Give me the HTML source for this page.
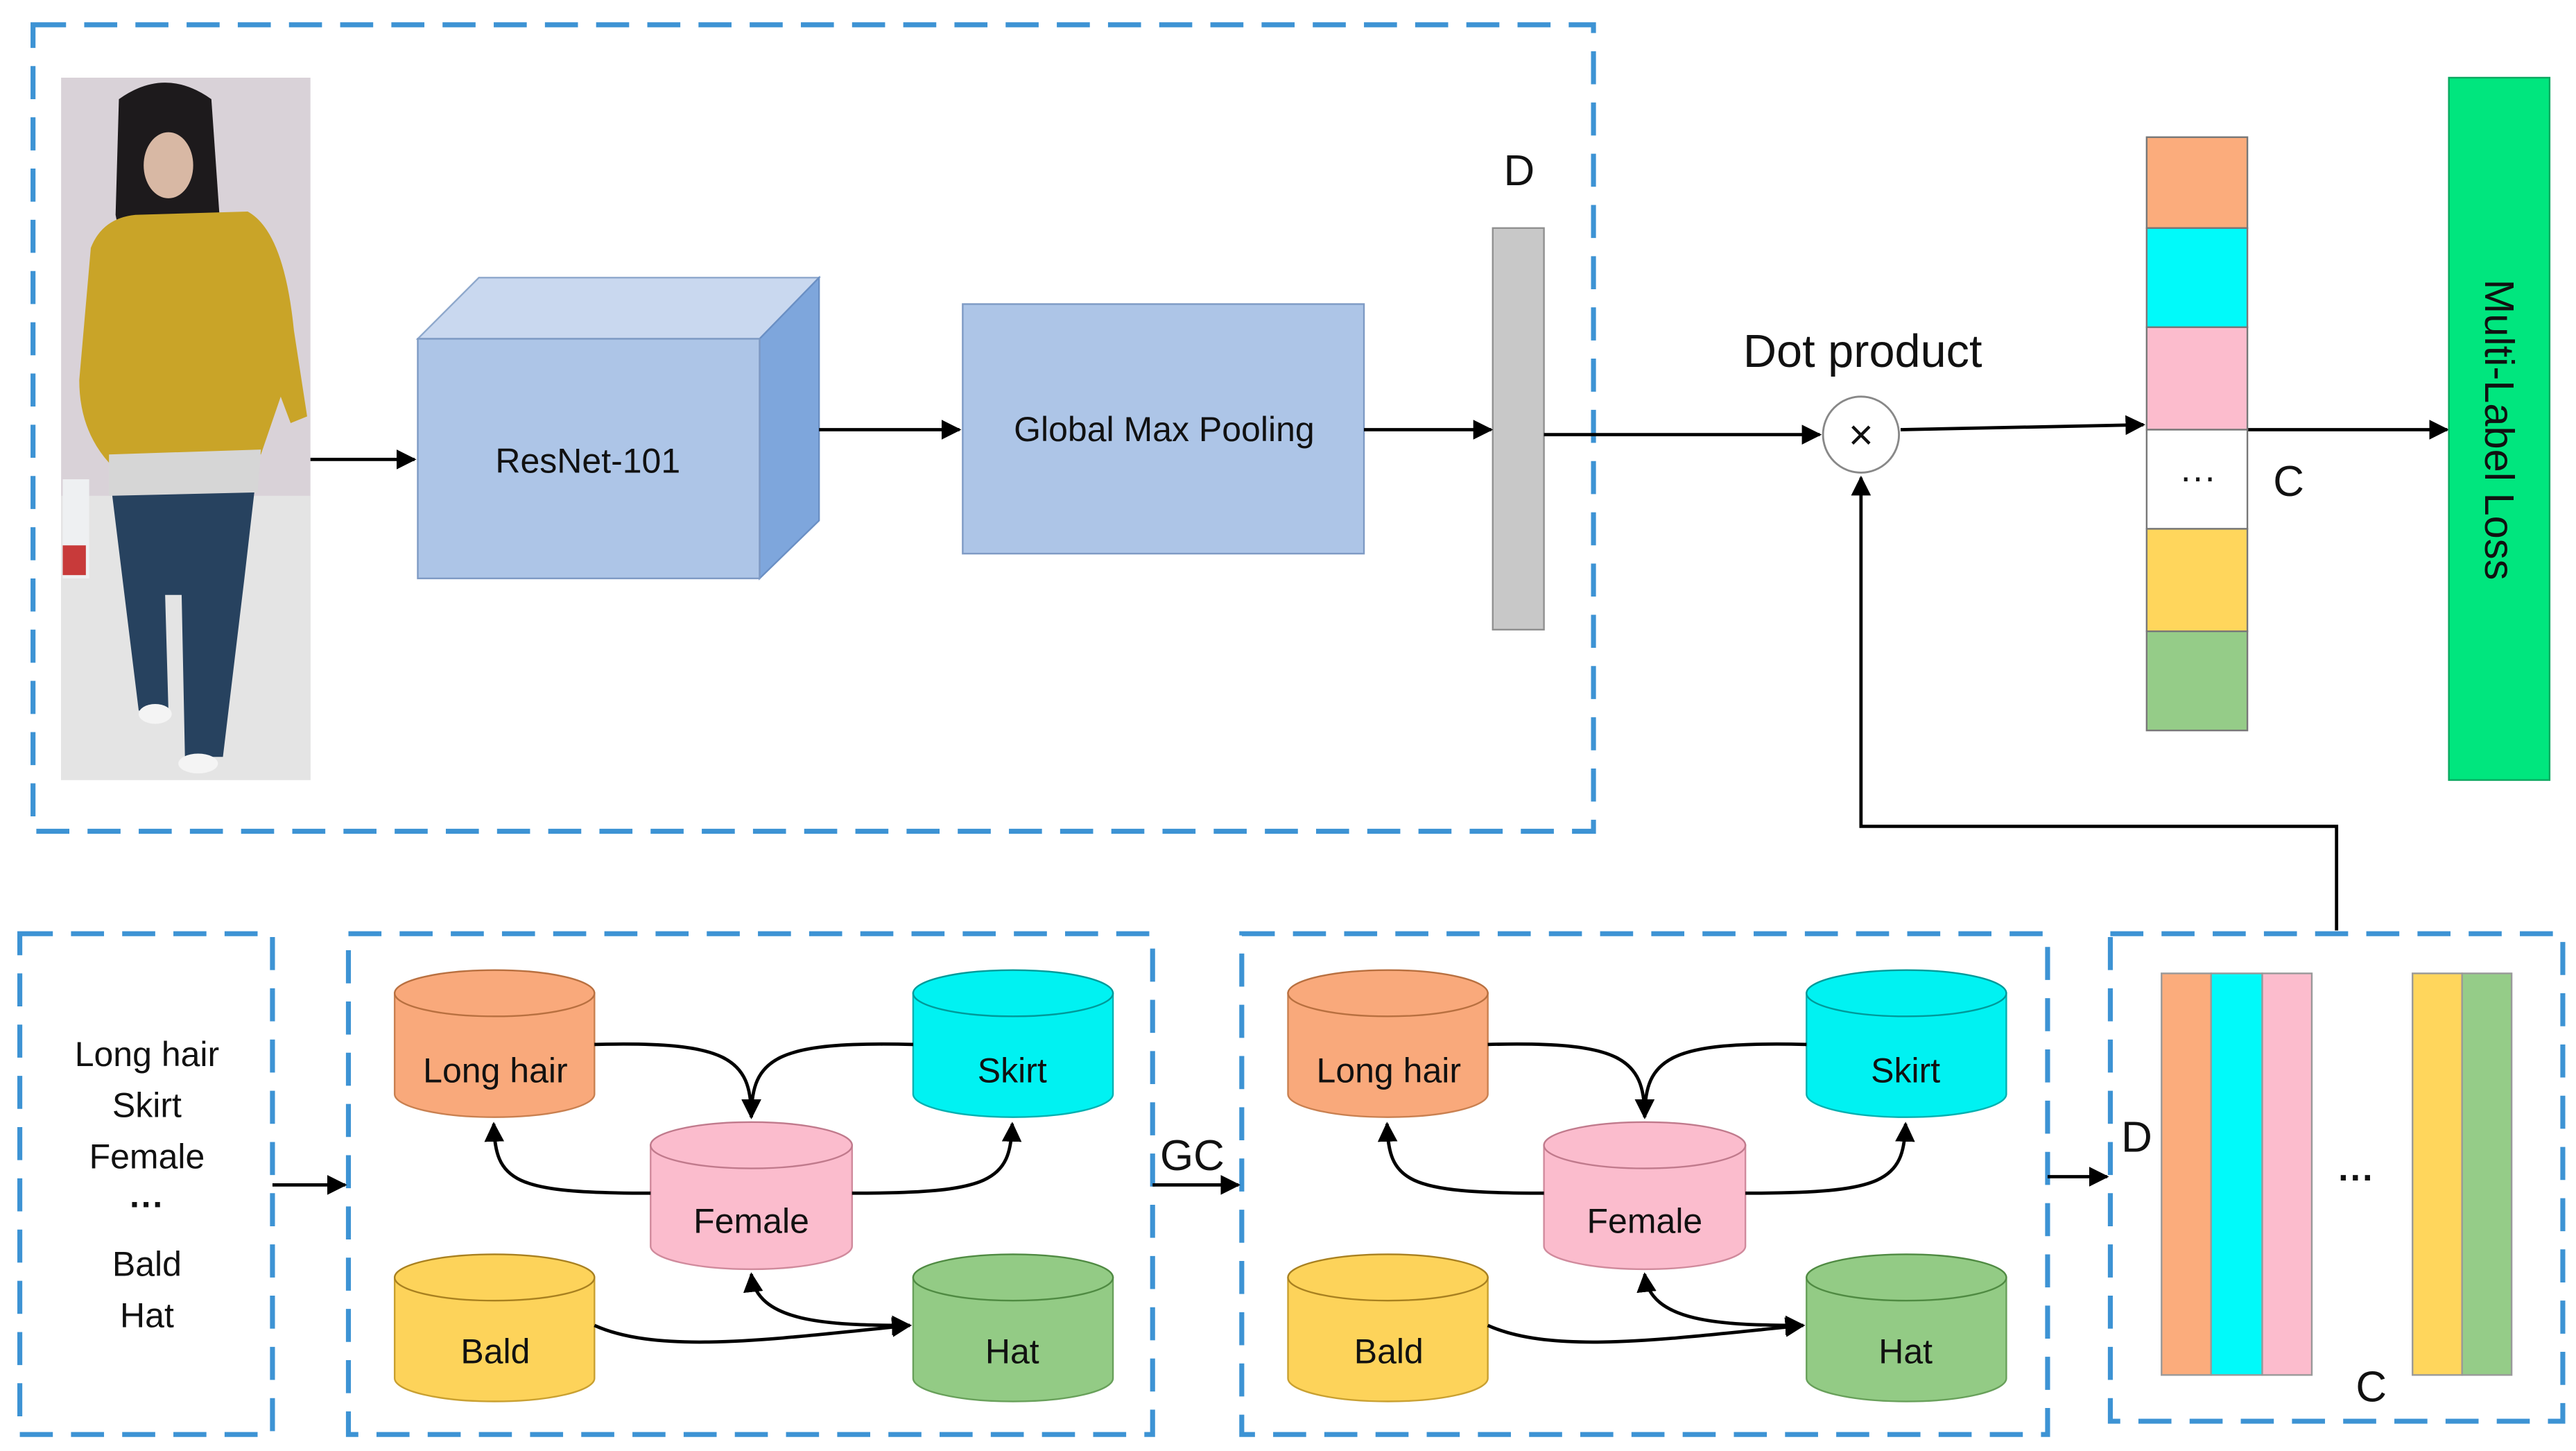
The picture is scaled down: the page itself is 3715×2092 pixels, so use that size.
<!DOCTYPE html>
<html><head><meta charset="utf-8"><style>
html,body{margin:0;padding:0;background:#fff;}
svg{display:block;}
text{font-family:"Liberation Sans",sans-serif;fill:#111;}
</style></head><body>
<svg width="3715" height="2092" viewBox="0 0 1560 878" preserveAspectRatio="none" xmlns="http://www.w3.org/2000/svg">
<defs>
<marker id="ar" viewBox="0 0 10 10" refX="9" refY="5" markerWidth="6" markerHeight="6" orient="auto-start-reverse" markerUnits="strokeWidth"><path d="M0,0 L10,5 L0,10 z" fill="#000"/></marker>
</defs>
<rect width="1560" height="878" fill="#fff"/>
<g fill="none" stroke="#3d93d4" stroke-width="3" stroke-dasharray="20,11">
<rect x="20" y="15" width="945" height="488"/>
<rect x="12" y="565" width="153" height="303"/>
<rect x="211" y="565" width="487" height="303"/>
<rect x="752" y="565" width="488" height="303"/>
<rect x="1278" y="565" width="274" height="295"/>
</g>
<!-- photo -->
<rect x="37" y="47" width="151" height="425" fill="#d9d2d8"/>
<rect x="37" y="300" width="151" height="172" fill="#e4e4e4"/>
<path d="M72,60 Q100,40 128,60 L135,160 L122,170 L78,170 L70,130 Z" fill="#1d1a1c"/>
<ellipse cx="102" cy="100" rx="15" ry="20" fill="#d8b8a4"/>
<path d="M55,150 Q62,132 82,130 L150,128 Q172,140 178,200 L186,252 L176,256 L170,240 L158,275 L66,280 Q48,260 48,230 Z" fill="#c9a428"/>
<path d="M66,275 L158,272 L156,298 L66,300 Z" fill="#d6d6d6"/>
<path d="M68,300 L154,298 L148,350 L135,458 L112,458 L110,360 L100,360 L102,430 L84,430 Z" fill="#27425f"/>
<ellipse cx="120" cy="462" rx="12" ry="6" fill="#f4f4f4"/>
<ellipse cx="94" cy="432" rx="10" ry="6" fill="#f4f4f4"/>
<rect x="38" y="290" width="16" height="60" fill="#eef0f2"/>
<rect x="38" y="330" width="14" height="18" fill="#c83a3a"/>
<!-- cube -->
<polygon points="253,205 290,168 496,168 460,205" fill="#c9d8ef" stroke="#8ea8cc" stroke-width="1"/>
<polygon points="460,205 496,168 496,315 460,350" fill="#7ea6dc" stroke="#6a8fc4" stroke-width="1"/>
<rect x="253" y="205" width="207" height="145" fill="#adc5e7" stroke="#7e9ac4" stroke-width="1"/>
<text x="356" y="286" font-size="21" text-anchor="middle">ResNet-101</text>
<rect x="583" y="184" width="243" height="151" fill="#adc5e7" stroke="#7e9ac4" stroke-width="1"/>
<text x="705" y="267" font-size="21" text-anchor="middle">Global Max Pooling</text>
<rect x="904" y="138" width="31" height="243" fill="#c8c8c8" stroke="#909090" stroke-width="1"/>
<text x="920" y="112" font-size="26" text-anchor="middle">D</text>
<g stroke="#000" stroke-width="2" fill="none" marker-end="url(#ar)">
<line x1="188" y1="278" x2="251" y2="278"/>
<line x1="496" y1="260" x2="581" y2="260"/>
<line x1="826" y1="260" x2="903" y2="260"/>
<line x1="935" y1="263" x2="1102" y2="263"/>
<line x1="1151" y1="260" x2="1298" y2="257"/>
<line x1="1361" y1="260" x2="1482" y2="260"/>
<polyline points="1415,563 1415,500 1127,500 1127,289"/>
<line x1="165" y1="717" x2="209" y2="717"/>
<line x1="698" y1="717" x2="750" y2="717"/>
<line x1="1240" y1="712" x2="1276" y2="712"/>
</g>
<circle cx="1127" cy="263" r="23" fill="#fff" stroke="#888" stroke-width="1.2"/>
<text x="1127" y="272" font-size="26" text-anchor="middle">×</text>
<text x="1128" y="222" font-size="28" text-anchor="middle">Dot product</text>
<g stroke="#777" stroke-width="1">
<rect x="1300" y="83" width="61" height="55" fill="#fbac7c"/>
<rect x="1300" y="138" width="61" height="60" fill="#00fafa"/>
<rect x="1300" y="198" width="61" height="62" fill="#fcbccd"/>
<rect x="1300" y="260" width="61" height="60" fill="#fff"/>
<rect x="1300" y="320" width="61" height="62" fill="#ffd65c"/>
<rect x="1300" y="382" width="61" height="60" fill="#95cc88"/>
</g>
<text x="1331" y="296" font-size="22" text-anchor="middle">···</text>
<text x="1386" y="300" font-size="26" text-anchor="middle">C</text>
<rect x="1483" y="47" width="61" height="425" fill="#00e67e" stroke="#0aa860" stroke-width="1"/>
<text transform="translate(1505,260) rotate(90)" font-size="25" text-anchor="middle">Multi-Label Loss</text>
<!-- box1 text -->
<g font-size="21" text-anchor="middle">
<text x="89" y="645">Long hair</text>
<text x="89" y="676">Skirt</text>
<text x="89" y="707">Female</text>
<text x="89" y="736" font-weight="bold">···</text>
<text x="89" y="772">Bald</text>
<text x="89" y="803">Hat</text>
</g>
<!-- graph 1 -->
<g>
<g stroke-width="1">
<path d="M239,601 L239,662 A60.5,14 0 0 0 360,662 L360,601 Z" fill="#f9a97b" stroke="#c98050"/><ellipse cx="299.5" cy="601" rx="60.5" ry="14" fill="#f9a97b" stroke="#b87040"/>
<path d="M553,601 L553,662 A60.5,14 0 0 0 674,662 L674,601 Z" fill="#00f2f2" stroke="#00b0b0"/><ellipse cx="613.5" cy="601" rx="60.5" ry="14" fill="#00f2f2" stroke="#009999"/>
<path d="M394,693 L394,754 A61,14 0 0 0 516,754 L516,693 Z" fill="#fbbccd" stroke="#d08a9c"/><ellipse cx="455" cy="693" rx="61" ry="14" fill="#fbbccd" stroke="#c07a8c"/>
<path d="M239,773 L239,834 A60.5,14 0 0 0 360,834 L360,773 Z" fill="#fdd35a" stroke="#c9a030"/><ellipse cx="299.5" cy="773" rx="60.5" ry="14" fill="#fdd35a" stroke="#a88020"/>
<path d="M553,773 L553,834 A60.5,14 0 0 0 674,834 L674,773 Z" fill="#93cb85" stroke="#68a05a"/><ellipse cx="613.5" cy="773" rx="60.5" ry="14" fill="#93cb85" stroke="#4f8a42"/>
</g>
<g font-size="21" text-anchor="middle">
<text x="300" y="655">Long hair</text>
<text x="613" y="655">Skirt</text>
<text x="455" y="746">Female</text>
<text x="300" y="825">Bald</text>
<text x="613" y="825">Hat</text>
</g>
<g stroke="#000" stroke-width="2" fill="none" marker-end="url(#ar)">
<path d="M360,632 C440,630 455,640 455,676"/>
<path d="M553,632 C470,630 455,640 455,676"/>
<path d="M394,722 C310,722 300,715 299,680"/>
<path d="M516,722 C600,722 612,715 613,680"/>
<path d="M360,802 C400,820 470,810 551,802"/>
<path d="M455,771 C458,800 500,802 551,802" marker-start="url(#ar)"/>
</g>
</g>
<text x="722" y="708" font-size="26" text-anchor="middle">GC</text>
<g transform="translate(541,0)">
<g stroke-width="1">
<path d="M239,601 L239,662 A60.5,14 0 0 0 360,662 L360,601 Z" fill="#f9a97b" stroke="#c98050"/><ellipse cx="299.5" cy="601" rx="60.5" ry="14" fill="#f9a97b" stroke="#b87040"/>
<path d="M553,601 L553,662 A60.5,14 0 0 0 674,662 L674,601 Z" fill="#00f2f2" stroke="#00b0b0"/><ellipse cx="613.5" cy="601" rx="60.5" ry="14" fill="#00f2f2" stroke="#009999"/>
<path d="M394,693 L394,754 A61,14 0 0 0 516,754 L516,693 Z" fill="#fbbccd" stroke="#d08a9c"/><ellipse cx="455" cy="693" rx="61" ry="14" fill="#fbbccd" stroke="#c07a8c"/>
<path d="M239,773 L239,834 A60.5,14 0 0 0 360,834 L360,773 Z" fill="#fdd35a" stroke="#c9a030"/><ellipse cx="299.5" cy="773" rx="60.5" ry="14" fill="#fdd35a" stroke="#a88020"/>
<path d="M553,773 L553,834 A60.5,14 0 0 0 674,834 L674,773 Z" fill="#93cb85" stroke="#68a05a"/><ellipse cx="613.5" cy="773" rx="60.5" ry="14" fill="#93cb85" stroke="#4f8a42"/>
</g>
<g font-size="21" text-anchor="middle">
<text x="300" y="655">Long hair</text>
<text x="613" y="655">Skirt</text>
<text x="455" y="746">Female</text>
<text x="300" y="825">Bald</text>
<text x="613" y="825">Hat</text>
</g>
<g stroke="#000" stroke-width="2" fill="none" marker-end="url(#ar)">
<path d="M360,632 C440,630 455,640 455,676"/>
<path d="M553,632 C470,630 455,640 455,676"/>
<path d="M394,722 C310,722 300,715 299,680"/>
<path d="M516,722 C600,722 612,715 613,680"/>
<path d="M360,802 C400,820 470,810 551,802"/>
<path d="M455,771 C458,800 500,802 551,802" marker-start="url(#ar)"/>
</g>
</g>
<text x="1294" y="697" font-size="26" text-anchor="middle">D</text>
<g stroke="#999" stroke-width="1">
<rect x="1309" y="589" width="30" height="243" fill="#fbac7c"/>
<rect x="1339" y="589" width="31" height="243" fill="#00fafa"/>
<rect x="1370" y="589" width="30" height="243" fill="#fcbccd"/>
<rect x="1461" y="589" width="30" height="243" fill="#ffd65c"/>
<rect x="1491" y="589" width="30" height="243" fill="#95cc88"/>
</g>
<text x="1427" y="720" font-size="22" text-anchor="middle" font-weight="bold">···</text>
<text x="1436" y="848" font-size="26" text-anchor="middle">C</text>
</svg>
</body></html>
